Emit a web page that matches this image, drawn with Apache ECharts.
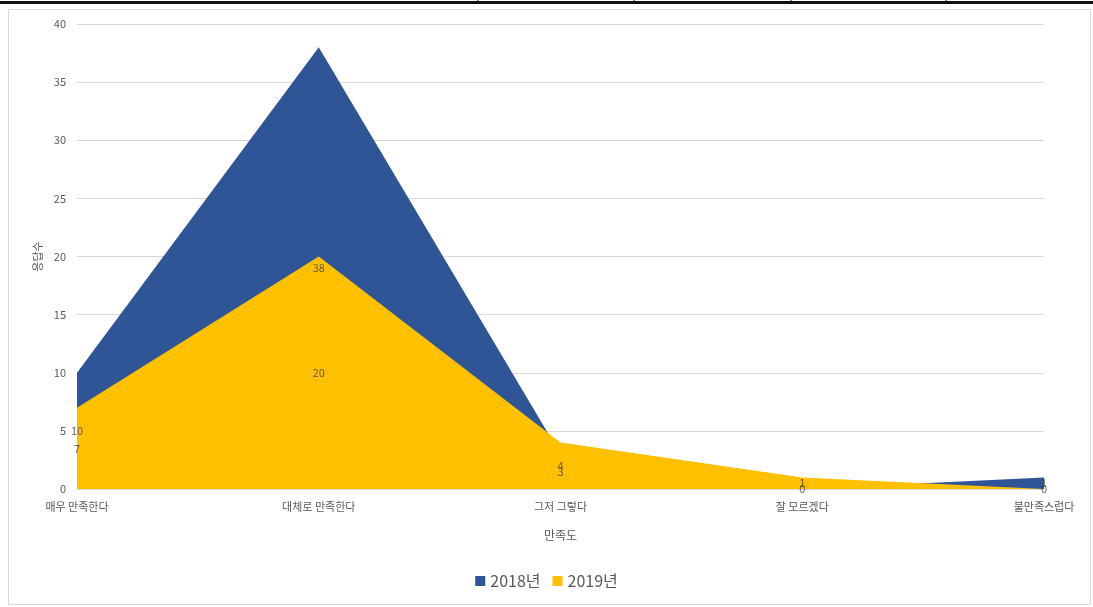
<!DOCTYPE html>
<html>
<head>
<meta charset="utf-8">
<style>
  html, body { margin: 0; padding: 0; background: #ffffff; }
  #chart { width: 1093px; height: 607px; }
</style>
<script src="https://cdn.jsdelivr.net/npm/echarts@6/dist/echarts.min.js"></script>
</head>
<body>
<div id="chart"></div>
<script>
// Satisfaction survey: response counts per satisfaction level
const categories = ['매우 만족한다', '대체로 만족한다', '그저 그렇다', '잘 모르겠다', '불만족스럽다'];
const series2018 = [10, 38, 3, 0, 1];
const series2019 = [7, 20, 4, 1, 0];
const yTicks = { min: 0, max: 40, interval: 5 };

const FONT = '"Noto Sans CJK KR", "Noto Sans", sans-serif';
const BLUE = '#2F5597';
const YELLOW = '#FFC000';

// Value labels sit at the vertical middle of each area
function midLabels(values, name) {
  return {
    name: name + '_label',
    type: 'scatter',
    symbolSize: 0,
    silent: true,
    z: 10,
    data: values.map((v, i) => ({ value: [i, v / 2], raw: v })),
    label: {
      show: true,
      position: 'inside',
      formatter: p => String(p.data.raw),
      color: '#404040',
      fontSize: 11,
      fontFamily: FONT
    }
  };
}

const chart = echarts.init(document.getElementById('chart'), null, { renderer: 'canvas' });

chart.setOption({
  backgroundColor: '#ffffff',
  animation: false,
  graphic: [
    { type: 'rect', shape: { x: 0, y: 1, width: 1093, height: 3 }, style: { fill: '#111111' } },
    { type: 'line', shape: { x1: 478, y1: 0, x2: 478, y2: 1 }, style: { stroke: '#111111', lineWidth: 1 } },
    { type: 'line', shape: { x1: 634, y1: 0, x2: 634, y2: 1 }, style: { stroke: '#111111', lineWidth: 1 } },
    { type: 'line', shape: { x1: 791, y1: 0, x2: 791, y2: 1 }, style: { stroke: '#111111', lineWidth: 1 } },
    { type: 'line', shape: { x1: 946, y1: 0, x2: 946, y2: 1 }, style: { stroke: '#111111', lineWidth: 1 } },
    { type: 'rect', shape: { x: 8.5, y: 9.5, width: 1082, height: 595 }, style: { fill: 'none', stroke: '#d9d9d9', lineWidth: 1 } }
  ],
  legend: {
    data: [
      { name: '2018년', icon: 'rect' },
      { name: '2019년', icon: 'rect' }
    ],
    left: 'center',
    top: 568,
    itemWidth: 10,
    itemHeight: 10,
    itemGap: 12,
    textStyle: { color: '#595959', fontSize: 16, fontFamily: FONT }
  },
  grid: { left: 77, right: 49, top: 24, bottom: 118, containLabel: false },
  xAxis: {
    type: 'category',
    data: categories,
    boundaryGap: false,
    name: '만족도',
    nameLocation: 'middle',
    nameGap: 40,
    nameTextStyle: { color: '#595959', fontSize: 12, fontFamily: FONT },
    axisLine: { lineStyle: { color: '#d9d9d9' } },
    axisTick: { show: false },
    axisLabel: { color: '#595959', fontSize: 11, fontFamily: FONT, margin: 12, interval: 0 },
    splitLine: { show: false }
  },
  yAxis: {
    type: 'value',
    min: yTicks.min,
    max: yTicks.max,
    interval: yTicks.interval,
    name: '응답수',
    nameLocation: 'middle',
    nameRotate: 90,
    nameGap: 33,
    nameTextStyle: { color: '#595959', fontSize: 11, fontFamily: FONT },
    axisLine: { show: false },
    axisTick: { show: false },
    axisLabel: { color: '#595959', fontSize: 11, fontFamily: FONT, margin: 11 },
    splitLine: { lineStyle: { color: '#d9d9d9', width: 1 } }
  },
  series: [
    {
      name: '2018년',
      type: 'line',
      data: series2018,
      symbol: 'none',
      lineStyle: { width: 0, color: BLUE },
      itemStyle: { color: BLUE },
      areaStyle: { color: BLUE, opacity: 1 },
      z: 2
    },
    {
      name: '2019년',
      type: 'line',
      data: series2019,
      symbol: 'none',
      lineStyle: { width: 0, color: YELLOW },
      itemStyle: { color: YELLOW },
      areaStyle: { color: YELLOW, opacity: 1 },
      z: 3
    },
    midLabels(series2018, '2018년'),
    midLabels(series2019, '2019년')
  ]
});
</script>
</body>
</html>
